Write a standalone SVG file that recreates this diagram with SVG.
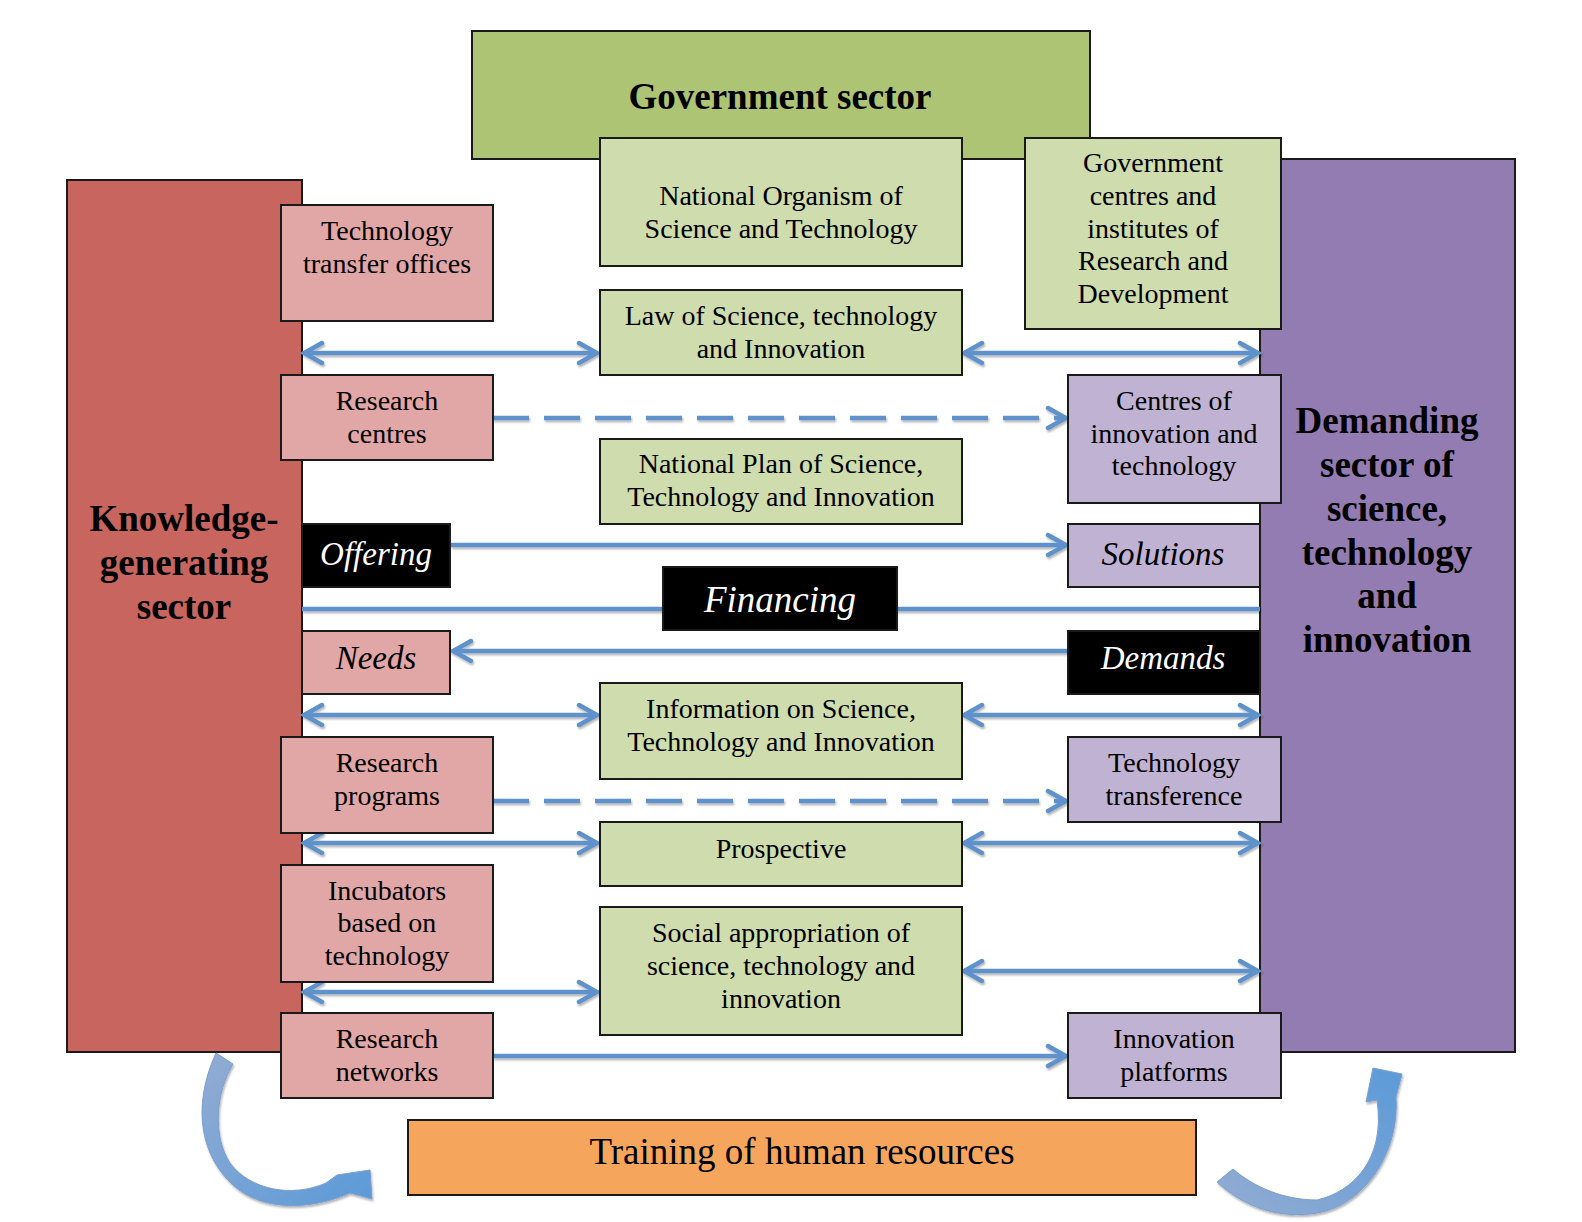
<svg xmlns="http://www.w3.org/2000/svg" width="1582" height="1222" viewBox="0 0 1582 1222">
<style>
.box{stroke:#1a1a1a;stroke-width:2}
.gov{fill:#adc474}
.lg{fill:#cfdcad}
.red{fill:#c8655f}
.pink{fill:#e0a7a6}
.pur{fill:#937cb1}
.lp{fill:#c0b2d2}
.blk{fill:#000}
.org{fill:#f6a55c}
.t{font-family:"Liberation Serif","Times New Roman",serif;font-size:28px;fill:#000;text-anchor:middle}
.big{font-family:"Liberation Serif","Times New Roman",serif;font-size:37px;font-weight:bold;fill:#000;text-anchor:middle}
.it{font-family:"Liberation Serif","Times New Roman",serif;font-size:33px;font-style:italic;fill:#000;text-anchor:middle}
.w{fill:#fff}
.ln{stroke:#5f91cb;stroke-width:4.5;fill:none}
.dash{stroke-dasharray:36 15}
</style>
<defs>
<marker id="ah" markerUnits="userSpaceOnUse" markerWidth="26" markerHeight="26" viewBox="0 0 26 26" refX="22" refY="13" orient="auto-start-reverse">
<path d="M4,3 L22,13 L4,23" fill="none" stroke="#5f91cb" stroke-width="4.5" stroke-linecap="round" stroke-linejoin="miter"/>
</marker>
<filter id="sh" x="-5%" y="-50%" width="110%" height="200%">
<feDropShadow dx="1" dy="2" stdDeviation="1" flood-color="#000" flood-opacity="0.3"/>
</filter>
<linearGradient id="gl" x1="0" y1="0" x2="1" y2="1">
<stop offset="0" stop-color="#93acd2"/>
<stop offset="1" stop-color="#5b9ad8"/>
</linearGradient>
<linearGradient id="gr" x1="0" y1="1" x2="1" y2="0">
<stop offset="0" stop-color="#93acd2"/>
<stop offset="1" stop-color="#5b9ad8"/>
</linearGradient>
</defs>
<rect width="1582" height="1222" fill="#fff"/>

<g id="government-sector">
<rect class="box gov" x="472" y="31" width="618" height="128"/>
<text class="big" x="780" y="109">Government sector</text>
</g>
<g id="knowledge-sector">
<rect class="box red" x="67" y="180" width="235" height="872"/>
<text class="big" x="184" y="531">Knowledge-</text>
<text class="big" x="184" y="575">generating</text>
<text class="big" x="184" y="619">sector</text>
</g>
<g id="demanding-sector">
<rect class="box pur" x="1260" y="159" width="255" height="893"/>
<text class="big" x="1387" y="433">Demanding</text>
<text class="big" x="1387" y="477">sector of</text>
<text class="big" x="1387" y="521">science,</text>
<text class="big" x="1387" y="565">technology</text>
<text class="big" x="1387" y="608">and</text>
<text class="big" x="1387" y="652">innovation</text>
</g>

<g id="connectors" filter="url(#sh)">
<line class="ln" x1="304" y1="353" x2="597" y2="353" marker-start="url(#ah)" marker-end="url(#ah)"/>
<line class="ln" x1="964" y1="353" x2="1258" y2="353" marker-start="url(#ah)" marker-end="url(#ah)"/>
<line class="ln dash" x1="493" y1="418" x2="1066" y2="418" marker-end="url(#ah)"/>
<line class="ln" x1="451" y1="545" x2="1066" y2="545" marker-end="url(#ah)"/>
<line class="ln" x1="302" y1="609" x2="1260" y2="609"/>
<line class="ln" x1="1068" y1="651" x2="453" y2="651" marker-end="url(#ah)"/>
<line class="ln" x1="304" y1="715" x2="597" y2="715" marker-start="url(#ah)" marker-end="url(#ah)"/>
<line class="ln" x1="964" y1="715" x2="1258" y2="715" marker-start="url(#ah)" marker-end="url(#ah)"/>
<line class="ln dash" x1="493" y1="801" x2="1066" y2="801" marker-end="url(#ah)"/>
<line class="ln" x1="304" y1="843" x2="597" y2="843" marker-start="url(#ah)" marker-end="url(#ah)"/>
<line class="ln" x1="964" y1="843" x2="1258" y2="843" marker-start="url(#ah)" marker-end="url(#ah)"/>
<line class="ln" x1="304" y1="992" x2="597" y2="992" marker-start="url(#ah)" marker-end="url(#ah)"/>
<line class="ln" x1="964" y1="971" x2="1258" y2="971" marker-start="url(#ah)" marker-end="url(#ah)"/>
<line class="ln" x1="493" y1="1056" x2="1066" y2="1056" marker-end="url(#ah)"/>
<path d="M216,1053 L233,1064 C216,1092 212,1135 230,1163 C250,1190 292,1198 326,1183 L337,1175 L370,1170 L372,1199 L350,1193 C312,1210 262,1212 233,1185 C203,1158 190,1110 216,1053 Z" fill="url(#gl)" stroke="#7a9fd0" stroke-width="1"/>
<path d="M1217,1182 L1233,1169 C1255,1188 1285,1200 1317,1200 C1352,1192 1386,1160 1377,1100 L1366,1102 L1373,1068 L1402,1074 L1396,1097 C1400,1150 1366,1205 1317,1213 C1280,1219 1245,1208 1217,1182 Z" fill="url(#gr)" stroke="#7a9fd0" stroke-width="1"/>
</g>

<g id="tto">
<rect class="box pink" x="281" y="205" width="212" height="116"/>
<text class="t" x="387" y="240">Technology</text>
<text class="t" x="387" y="273">transfer offices</text>
</g>
<g id="national-organism">
<rect class="box lg" x="600" y="138" width="362" height="128"/>
<text class="t" x="781" y="205">National Organism of</text>
<text class="t" x="781" y="238">Science and Technology</text>
</g>
<g id="gov-centres">
<rect class="box lg" x="1025" y="138" width="256" height="191"/>
<text class="t" x="1153" y="172">Government</text>
<text class="t" x="1153" y="205">centres and</text>
<text class="t" x="1153" y="238">institutes of</text>
<text class="t" x="1153" y="270">Research and</text>
<text class="t" x="1153" y="303">Development</text>
</g>
<g id="law">
<rect class="box lg" x="600" y="290" width="362" height="85"/>
<text class="t" x="781" y="325">Law of Science, technology</text>
<text class="t" x="781" y="358">and Innovation</text>
</g>
<g id="research-centres">
<rect class="box pink" x="281" y="375" width="212" height="85"/>
<text class="t" x="387" y="410">Research</text>
<text class="t" x="387" y="443">centres</text>
</g>
<g id="centres-innovation">
<rect class="box lp" x="1068" y="375" width="213" height="128"/>
<text class="t" x="1174" y="410">Centres of</text>
<text class="t" x="1174" y="443">innovation and</text>
<text class="t" x="1174" y="475">technology</text>
</g>
<g id="national-plan">
<rect class="box lg" x="600" y="439" width="362" height="85"/>
<text class="t" x="781" y="473">National Plan of Science,</text>
<text class="t" x="781" y="506">Technology and Innovation</text>
</g>
<g id="offering">
<rect class="box blk" x="302" y="524" width="148" height="63"/>
<text class="it w" x="376" y="565">Offering</text>
</g>
<g id="solutions">
<rect class="box lp" x="1068" y="524" width="192" height="63"/>
<text class="it" x="1163" y="565">Solutions</text>
</g>
<g id="financing">
<rect class="box blk" x="663" y="567" width="234" height="63"/>
<text class="it w" x="780" y="612" style="font-size:37px">Financing</text>
</g>
<g id="needs">
<rect class="box pink" x="302" y="631" width="148" height="63"/>
<text class="it" x="376" y="669">Needs</text>
</g>
<g id="demands">
<rect class="box blk" x="1068" y="631" width="192" height="63"/>
<text class="it w" x="1163" y="669">Demands</text>
</g>
<g id="information">
<rect class="box lg" x="600" y="683" width="362" height="96"/>
<text class="t" x="781" y="718">Information on Science,</text>
<text class="t" x="781" y="751">Technology and Innovation</text>
</g>
<g id="research-programs">
<rect class="box pink" x="281" y="737" width="212" height="96"/>
<text class="t" x="387" y="772">Research</text>
<text class="t" x="387" y="805">programs</text>
</g>
<g id="technology-transference">
<rect class="box lp" x="1068" y="737" width="213" height="85"/>
<text class="t" x="1174" y="772">Technology</text>
<text class="t" x="1174" y="805">transference</text>
</g>
<g id="prospective">
<rect class="box lg" x="600" y="822" width="362" height="64"/>
<text class="t" x="781" y="858">Prospective</text>
</g>
<g id="incubators">
<rect class="box pink" x="281" y="865" width="212" height="117"/>
<text class="t" x="387" y="900">Incubators</text>
<text class="t" x="387" y="932">based on</text>
<text class="t" x="387" y="965">technology</text>
</g>
<g id="social-appropriation">
<rect class="box lg" x="600" y="907" width="362" height="128"/>
<text class="t" x="781" y="942">Social appropriation of</text>
<text class="t" x="781" y="975">science, technology and</text>
<text class="t" x="781" y="1008">innovation</text>
</g>
<g id="research-networks">
<rect class="box pink" x="281" y="1013" width="212" height="85"/>
<text class="t" x="387" y="1048">Research</text>
<text class="t" x="387" y="1081">networks</text>
</g>
<g id="innovation-platforms">
<rect class="box lp" x="1068" y="1013" width="213" height="85"/>
<text class="t" x="1174" y="1048">Innovation</text>
<text class="t" x="1174" y="1081">platforms</text>
</g>
<g id="training">
<rect class="box org" x="408" y="1120" width="788" height="75"/>
<text class="t" x="802" y="1164" style="font-size:37px">Training of human resources</text>
</g>
</svg>
